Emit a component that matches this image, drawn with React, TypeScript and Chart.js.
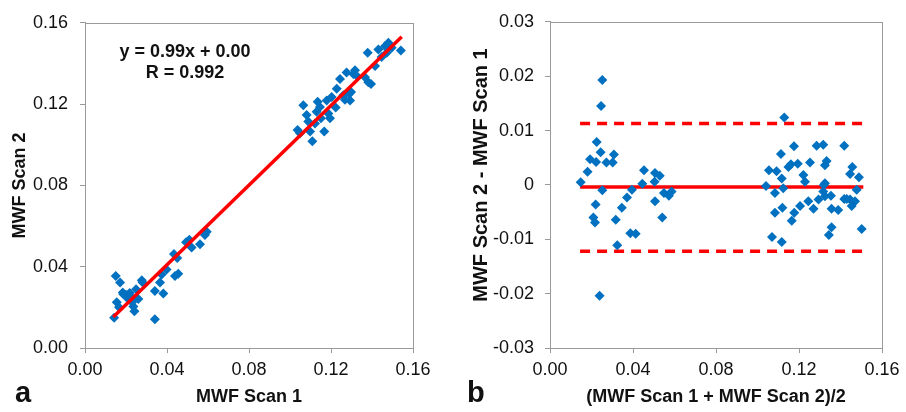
import React, { useEffect, useRef } from 'react';
import { Chart, registerables } from 'chart.js';

Chart.register(...registerables);

const FONT = '"Liberation Sans", Arial, Helvetica, sans-serif';
const BLUE = 'rgb(0,112,192)';
const RED = '#ff0000';
const GRAY = '#9a9a9a';

// ---------- Panel a: MWF Scan 1 vs MWF Scan 2 ----------
const scan1 = [
  0.0142, 0.0150, 0.0171, 0.0155, 0.0166, 0.0184, 0.0200, 0.0211, 0.0228, 0.0236,
  0.0241, 0.0249, 0.0260, 0.0277, 0.0281, 0.0341, 0.0341, 0.0366, 0.0382, 0.0374,
  0.0398, 0.0434, 0.0439, 0.0455, 0.0450, 0.0493, 0.0509, 0.0520, 0.0561, 0.0585,
  0.0594, 0.0187, 0.0218, 0.0230,
  0.1037, 0.1049, 0.1065, 0.1081, 0.1089, 0.1098, 0.1109, 0.1122, 0.1130, 0.1135,
  0.1146, 0.1151, 0.1167, 0.1179, 0.1187, 0.1195, 0.1203, 0.1223, 0.1228, 0.1244,
  0.1260, 0.1268, 0.1276, 0.1293, 0.1298, 0.1309, 0.1317, 0.1325, 0.1366, 0.1382,
  0.1395, 0.1415, 0.1379, 0.1431, 0.1447, 0.1463, 0.1472, 0.1480, 0.1496, 0.1541,
  0.1289,
];
const scan2 = [
  0.0149, 0.0354, 0.0322, 0.0225, 0.0200, 0.0273, 0.0262, 0.0241, 0.0249, 0.0204,
  0.0181, 0.0289, 0.0241, 0.0333, 0.0322, 0.0141, 0.0281, 0.0322, 0.0268, 0.0362,
  0.0386, 0.0462, 0.0354, 0.0365, 0.0443, 0.0520, 0.0532, 0.0495, 0.0511, 0.0556,
  0.0572, 0.0265, 0.0270, 0.0225,
  0.1073, 0.1057, 0.1194, 0.1146, 0.1114, 0.1065, 0.1017, 0.1105, 0.1162, 0.1211,
  0.1186, 0.1130, 0.1065, 0.1218, 0.1154, 0.1130, 0.1235, 0.1183, 0.1275, 0.1324,
  0.1243, 0.1222, 0.1356, 0.1218, 0.1259, 0.1348, 0.1367, 0.1340, 0.1332, 0.1308,
  0.1299, 0.1388, 0.1453, 0.1469, 0.1432, 0.1485, 0.1453, 0.1502, 0.1477, 0.1464,
  0.1251,
];
const fitX = [0.0138, 0.1545];
const fitY = [0.0152, 0.1531];
const equationLines = ['y = 0.99x + 0.00', 'R = 0.992'];

// ---------- Panel b: Bland-Altman ----------
const meanScan = [
  0.0252, 0.0246, 0.0225, 0.0244, 0.0193, 0.0222, 0.0308, 0.0272, 0.0302, 0.0181,
  0.0148, 0.0252, 0.0220, 0.0209, 0.0217, 0.0317, 0.0324, 0.0239, 0.0346, 0.0371,
  0.0395, 0.0387, 0.0413, 0.0445, 0.0453, 0.0506, 0.0529, 0.0504, 0.0506, 0.0541,
  0.0549, 0.0573, 0.0586,
  0.1129, 0.1176, 0.1113, 0.1285, 0.1317, 0.1418, 0.1055, 0.1092, 0.1149, 0.1161,
  0.1194, 0.1253, 0.1325, 0.1333, 0.1221, 0.1229, 0.1117, 0.1457, 0.1446, 0.1489,
  0.1041, 0.1124, 0.1325, 0.1084, 0.1478, 0.1205, 0.1245, 0.1270, 0.1294, 0.1325,
  0.1354, 0.1357, 0.1389, 0.1418, 0.1446, 0.1470, 0.1454, 0.1120, 0.1084, 0.1177,
  0.1165, 0.1070, 0.1117, 0.1357, 0.1344, 0.1502, 0.1320, 0.1317, 0.1430,
];
const diffScan = [
  0.0193, 0.0145, 0.0079, 0.0060, 0.0047, 0.0042, 0.0056, 0.0041, 0.0041, 0.0024,
  0.0005, -0.0010, -0.0036, -0.0060, -0.0069, -0.0064, -0.0111, -0.0204, -0.0042, -0.0023,
  -0.0009, -0.0089, -0.0090, 0.0002, 0.0027, 0.0022, 0.0017, 0.0006, -0.0030, -0.0060,
  -0.0015, -0.0020, -0.0012,
  0.0124, 0.0071, 0.0057, 0.0072, 0.0074, 0.0072, 0.0027, 0.0025, 0.0033, 0.0038,
  0.0039, 0.0041, 0.0036, 0.0044, 0.0018, 0.0006, 0.0012, 0.0033, 0.0020, 0.0014,
  -0.0002, -0.0006, 0.0003, -0.0015, -0.0009, -0.0039, -0.0030, -0.0044, -0.0027, -0.0021,
  -0.0020, -0.0044, -0.0046, -0.0026, -0.0027, -0.0030, -0.0039, -0.0042, -0.0051, -0.0051,
  -0.0066, -0.0096, -0.0105, -0.0078, -0.0092, -0.0081, 0.0000, -0.0012, -0.0026,
];
const limitX = [0.0145, 0.151];
const meanDiff = -0.0004;
const upperLimit = 0.0113;
const lowerLimit = -0.0122;

// ---------- Tick labels ----------
const scanTicks = [0, 0.04, 0.08, 0.12, 0.16];
const scanTickLabels = ['0.00', '0.04', '0.08', '0.12', '0.16'];
const diffTicks = [-0.03, -0.02, -0.01, 0, 0.01, 0.02, 0.03];
const diffTickLabels = ['-0.03', '-0.02', '-0.01', '0', '0.01', '0.02', '0.03'];

function pts(xs: number[], ys: number[]) {
  return xs.map((x, i) => ({ x, y: ys[i] }));
}

function makeAxis(o: {
  min: number; max: number; ticks: number[]; labels: string[];
  title: string | null; titlePad?: any; width?: number; height?: number; pad: number;
}) {
  return {
    type: 'linear',
    min: o.min,
    max: o.max,
    afterBuildTicks: (s: any) => { s.ticks = o.ticks.map((v) => ({ value: v })); },
    afterFit: (s: any) => {
      if (o.width !== undefined) s.width = o.width;
      if (o.height !== undefined) s.height = o.height;
    },
    ticks: {
      autoSkip: false,
      maxRotation: 0,
      callback: (_v: any, i: number) => o.labels[i],
      font: { family: FONT, size: 18 },
      color: '#111',
      padding: o.pad,
    },
    grid: { drawOnChartArea: false, drawTicks: true, tickLength: 5, color: GRAY, lineWidth: 1 },
    border: { display: true, color: GRAY, width: 1 },
    title: {
      display: o.title !== null,
      text: o.title || '',
      font: { family: FONT, size: 18, weight: 'bold' },
      color: '#111',
      padding: o.titlePad || 0,
    },
  };
}

const panelPlugin = {
  id: 'panelDecor',
  afterDraw(chart: any, _args: any, opts: any) {
    const ctx = chart.ctx;
    const a = chart.chartArea;
    ctx.save();
    ctx.strokeStyle = GRAY;
    ctx.lineWidth = 1;
    ctx.strokeRect(Math.round(a.left) + 0.5, Math.round(a.top) + 0.5,
      Math.round(a.right) - Math.round(a.left), Math.round(a.bottom) - Math.round(a.top));
    for (const t of (opts.items || [])) {
      ctx.save();
      ctx.font = `bold ${t.size}px ${FONT}`;
      ctx.fillStyle = '#111';
      ctx.textAlign = t.align;
      ctx.textBaseline = t.baseline;
      ctx.translate(t.x, t.y);
      if (t.rotate) ctx.rotate(t.rotate);
      ctx.fillText(t.text, 0, 0);
      ctx.restore();
    }
    ctx.restore();
  },
};

function configA(): any {
  return {
    type: 'scatter',
    data: {
      datasets: [
        {
          data: pts(fitX, fitY), showLine: true, borderColor: RED, borderWidth: 3.5,
          pointRadius: 0, order: 0, borderCapStyle: 'butt',
        },
        {
          data: pts(scan1, scan2), pointStyle: 'rectRot', pointRadius: 5,
          backgroundColor: BLUE, borderWidth: 0, order: 1,
        },
      ],
    },
    options: {
      animation: false, responsive: false, devicePixelRatio: 1, events: [],
      layout: { padding: { top: 18, right: 40, bottom: 0, left: 0 } },
      plugins: {
        legend: { display: false }, tooltip: { enabled: false },
        panelDecor: {
          items: [
            { text: equationLines[0], x: 185, y: 52, size: 18, align: 'center', baseline: 'middle' },
            { text: equationLines[1], x: 185, y: 73, size: 18, align: 'center', baseline: 'middle' },
            { text: 'a', x: 15, y: 402, size: 29, align: 'left', baseline: 'alphabetic' },
          ],
        },
      },
      scales: {
        x: makeAxis({ min: 0, max: 0.16, ticks: scanTicks, labels: scanTickLabels, title: 'MWF Scan 1',
          titlePad: { top: 0, bottom: 4 }, height: 64, pad: 6 }),
        y: makeAxis({ min: 0, max: 0.16, ticks: scanTicks, labels: scanTickLabels, title: 'MWF Scan 2',
          titlePad: { top: 9, bottom: 0 }, width: 85, pad: 12 }),
      },
    },
    plugins: [panelPlugin],
  };
}

function configB(): any {
  const hline = (v: number, dash: number[]) => ({
    data: pts(limitX, [v, v]), showLine: true, borderColor: RED, borderWidth: 3.5,
    borderDash: dash, pointRadius: 0, order: 1, borderCapStyle: 'butt',
  });
  return {
    type: 'scatter',
    data: {
      datasets: [
        {
          data: pts(meanScan, diffScan), pointStyle: 'rectRot', pointRadius: 5,
          backgroundColor: BLUE, borderWidth: 0, order: 0,
        },
        hline(meanDiff, []),
        hline(upperLimit, [10, 7]),
        hline(lowerLimit, [10, 7]),
      ],
    },
    options: {
      animation: false, responsive: false, devicePixelRatio: 1, events: [],
      layout: { padding: { top: 16, right: 24, bottom: 0, left: 0 } },
      plugins: {
        legend: { display: false }, tooltip: { enabled: false },
        panelDecor: {
          items: [
            { text: 'b', x: 14, y: 402, size: 29, align: 'left', baseline: 'alphabetic' },
            { text: 'MWF Scan 2 - MWF Scan 1', x: 28, y: 175, size: 20, align: 'center',
              baseline: 'middle', rotate: -Math.PI / 2 },
          ],
        },
      },
      scales: {
        x: makeAxis({ min: 0, max: 0.16, ticks: scanTicks, labels: scanTickLabels,
          title: '(MWF Scan 1 + MWF Scan 2)/2', titlePad: { top: 0, bottom: 4 }, height: 64, pad: 6 }),
        y: makeAxis({ min: -0.03, max: 0.03, ticks: diffTicks, labels: diffTickLabels,
          title: null, width: 97, pad: 11 }),
      },
    },
    plugins: [panelPlugin],
  };
}

export default function App() {
  const refA = useRef<HTMLCanvasElement>(null);
  const refB = useRef<HTMLCanvasElement>(null);
  useEffect(() => {
    const ca = new Chart(refA.current as HTMLCanvasElement, configA());
    const cb = new Chart(refB.current as HTMLCanvasElement, configB());
    return () => { ca.destroy(); cb.destroy(); };
  }, []);
  return (
    <div style={{ position: 'absolute', left: 0, top: 0, width: 906, height: 412, background: '#fff' }}>
      <canvas ref={refA} width={453} height={412}
        style={{ position: 'absolute', left: 0, top: 0, width: 453, height: 412 }} />
      <canvas ref={refB} width={453} height={412}
        style={{ position: 'absolute', left: 453, top: 0, width: 453, height: 412 }} />
    </div>
  );
}
